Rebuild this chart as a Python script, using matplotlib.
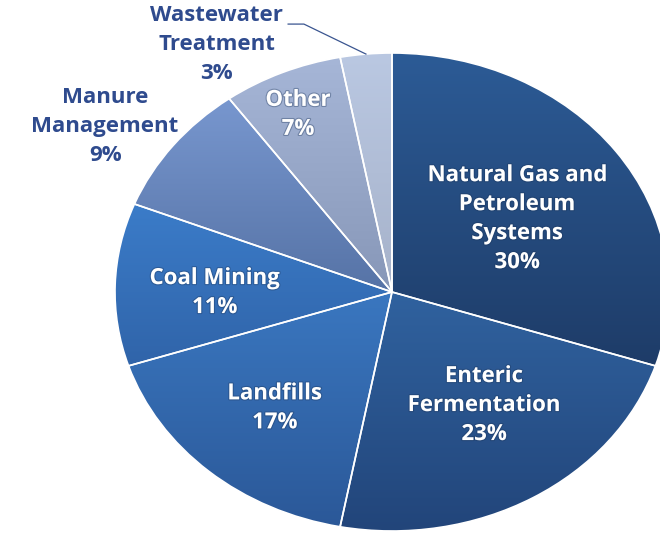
"""
Methane emissions by source - pie chart
"""
import numpy as np
import matplotlib
matplotlib.use("Agg")
import matplotlib.pyplot as plt
import matplotlib.patheffects as pe
from matplotlib.colors import LinearSegmentedColormap

# data
sources = ["Natural Gas and\nPetroleum\nSystems", "Enteric\nFermentation", "Landfills",
           "Coal Mining", "Manure\nManagement", "Other", "Wastewater\nTreatment"]
shares = [30, 23, 17, 11, 9, 7, 3]

# gradient colours per slice (top, bottom)
top_colors = ["#2c5b96", "#30629f", "#3a77c0", "#3b7cc9", "#7897cf", "#a6b6d7", "#bac8e2"]
bot_colors = ["#1e3c68", "#22457a", "#2b5898", "#3064a9", "#5673a6", "#8797b8", "#a6b2ca"]
label_colors = ["white", "white", "white", "white", "#2f4b8e", "white", "#2f4b8e"]
# label placement (radius, angle in degrees) in pie units
label_pos = [(0.545, 34), (0.58, -55), (0.645, -131), (0.64, 180.4),
             (1.245, 146.3), (0.815, 114.6), (1.215, 121.4)]

W, H = 660, 535
cx, cy, rx, ry = 392, 292, 277, 239

plt.rcParams['font.family'] = ['Open Sans', 'DejaVu Sans']
fig = plt.figure(figsize=(W / 100, H / 100), dpi=100)
ax = fig.add_axes([0, 0, 1, 1])

wedges, _ = ax.pie(shares, startangle=90, counterclock=False,
                   wedgeprops=dict(edgecolor="white", linewidth=1.2))

# vertical gradient fill clipped to every wedge
angles = 90 - np.cumsum([0] + shares) * 3.6
for i, w in enumerate(wedges):
    t = np.linspace(angles[i + 1], angles[i], 100)
    ys = np.concatenate([np.sin(np.radians(t)), [0]])
    cmap = LinearSegmentedColormap.from_list("g", [bot_colors[i], top_colors[i]])
    grad = np.linspace(0, 1, 256).reshape(-1, 1)
    w.set_facecolor("none")
    im = ax.imshow(grad, cmap=cmap, origin="lower", aspect="auto",
                   extent=(-1, 1, ys.min(), ys.max()), zorder=0.5)
    im.set_clip_path(w)

# labels
for i, (name, s) in enumerate(zip(sources, shares)):
    r, a = label_pos[i]
    x, y = r * np.cos(np.radians(a)), r * np.sin(np.radians(a))
    txt = ax.text(x, y, f"{name}\n{s}%", ha="center", va="center",
                  fontsize=16, fontweight="bold", color=label_colors[i],
                  linespacing=1.5, zorder=5)
    if label_colors[i] == "white":
        txt.set_path_effects([pe.withStroke(linewidth=1.6, foreground="#1a3358", alpha=0.35)])

# leader line for the smallest slice
mid = np.radians((angles[-2] + angles[-1]) / 2)
ax.plot([-0.375, -0.318, np.cos(mid)], [1.121, 1.121, np.sin(mid)],
        color="#3a5590", lw=0.9, zorder=4)

ax.set_aspect("auto")
ax.set_xlim(-cx / rx, (W - cx) / rx)
ax.set_ylim(-(H - cy) / ry, cy / ry)
ax.axis("off")

plt.savefig("out.png", dpi=100)
